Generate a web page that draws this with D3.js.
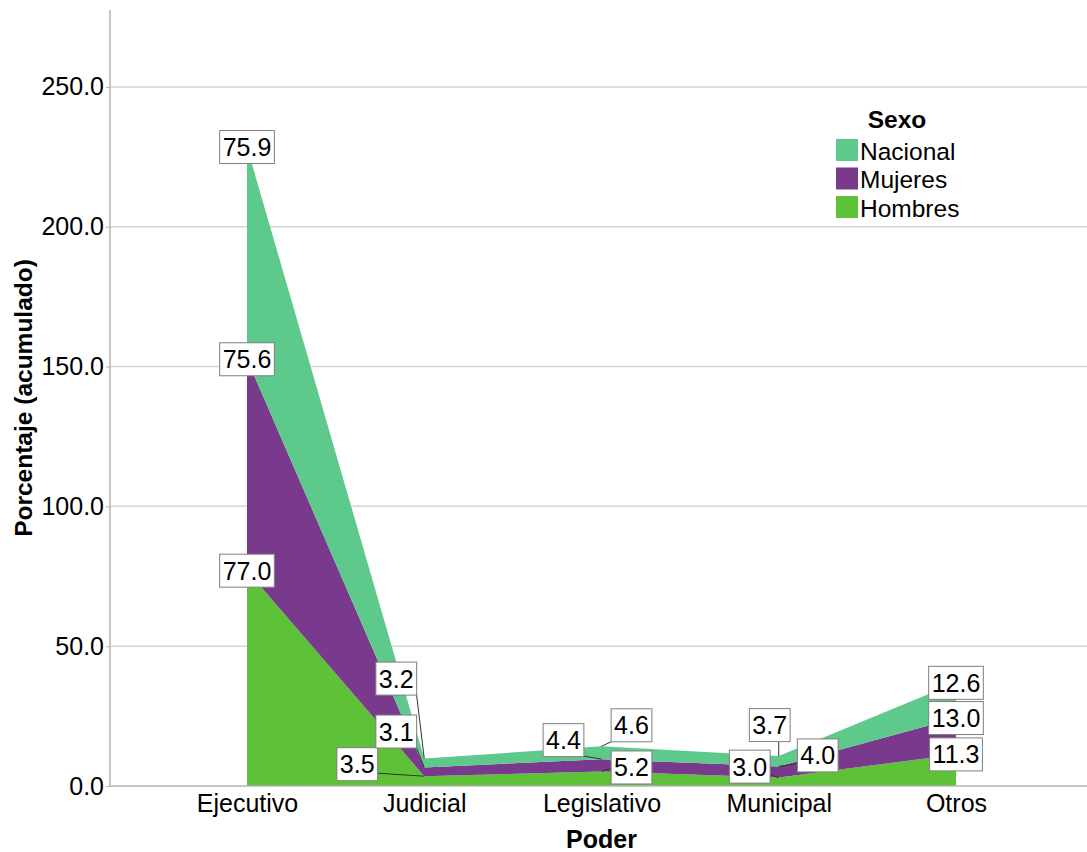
<!DOCTYPE html>
<html>
<head>
<meta charset="utf-8">
<script src="https://cdn.jsdelivr.net/npm/d3@7"></script>
<style>
	body { margin: 0; background: #fff; }
	svg { display: block; font-family: "Liberation Sans", Arial, sans-serif; }
</style>
</head>
<body>
<div id="chart"></div>
<script>
// Data
const categories = ["Ejecutivo", "Judicial", "Legislativo", "Municipal", "Otros"];
const hombres = [77.0, 3.5, 5.2, 3.0, 11.3];
const mujeres = [75.6, 3.1, 4.4, 4.0, 13.0];
const nacional = [75.9, 3.2, 4.6, 3.7, 12.6];
const seriesKeys = ["Hombres", "Mujeres", "Nacional"];
const yTicks = [0, 50, 100, 150, 200, 250];

const colors = { Hombres: "#5ec238", Mujeres: "#793a8d", Nacional: "#5dc98b" };

// label displacement (px) where SPSS pushed labels apart
const labelShift = {
	Hombres: [[0, 0], [-67, -12], [30, -4], [-29, -11], [0, 0]],
	Mujeres: [[0, 0], [-28, -36], [-38, -19], [39, -11], [0, 0]],
	Nacional: [[0, 0], [-28, -80], [30, -21], [-9, -31], [0, 0]]
};

const width = 1087, height = 852;
const margin = { top: 10, right: 0, bottom: 66, left: 110 };
const fontSize = 25;

const rows = categories.map((c, i) => ({
	cat: c, Hombres: hombres[i], Mujeres: mujeres[i], Nacional: nacional[i]
}));
const stacked = d3.stack().keys(seriesKeys)(rows);

const x = d3.scalePoint()
	.domain(categories)
	.range([margin.left, width + 6])
	.padding(0.773);

const y = d3.scaleLinear()
	.domain([0, 277.5])
	.range([height - margin.bottom, margin.top]);

const svg = d3.select("#chart").append("svg")
	.attr("width", width)
	.attr("height", height);

// Gridlines
svg.append("g")
	.selectAll("line")
	.data(yTicks.filter(d => d > 0))
	.join("line")
	.attr("x1", margin.left)
	.attr("x2", width)
	.attr("y1", d => y(d))
	.attr("y2", d => y(d))
	.attr("stroke", "#d6d6d6")
	.attr("stroke-width", 1.5);

// Areas
const area = d3.area()
	.x(d => x(d.data.cat))
	.y0(d => y(d[0]))
	.y1(d => y(d[1]));

svg.append("g")
	.selectAll("path")
	.data(stacked)
	.join("path")
	.attr("fill", d => colors[d.key])
	.attr("d", area);

// Axes
const yAxis = svg.append("g")
	.attr("transform", `translate(${margin.left},0)`)
	.call(d3.axisLeft(y).tickValues(yTicks).tickFormat(d3.format(".1f")).tickSize(4).tickPadding(2));
yAxis.select(".domain").attr("stroke", "#b4b4b4").attr("stroke-width", 1.5)
	.attr("d", `M0,${margin.top}V${y(0)}`);
yAxis.selectAll(".tick line").attr("stroke", "#b4b4b4");
yAxis.selectAll(".tick text")
	.attr("font-size", fontSize)
	.attr("font-family", "Liberation Sans, Arial, sans-serif")
	.attr("fill", "#000");

const xAxis = svg.append("g")
	.attr("transform", `translate(0,${y(0)})`)
	.call(d3.axisBottom(x).tickSize(0).tickPadding(8));
xAxis.select(".domain").attr("stroke", "#b4b4b4").attr("stroke-width", 1.5)
	.attr("d", `M${margin.left},0H${width}`);
xAxis.selectAll(".tick text")
	.attr("font-size", fontSize)
	.attr("font-family", "Liberation Sans, Arial, sans-serif")
	.attr("fill", "#000");

// Axis titles
svg.append("text")
	.attr("x", x("Legislativo"))
	.attr("y", 848)
	.attr("text-anchor", "middle")
	.attr("font-size", fontSize)
	.attr("font-weight", "bold")
	.text("Poder");

svg.append("text")
	.attr("transform", `translate(23,${(y(0) + margin.top) / 2}) rotate(-90)`)
	.attr("text-anchor", "middle")
	.attr("dominant-baseline", "central")
	.attr("font-size", 24.5)
	.attr("font-weight", "bold")
	.text("Porcentaje (acumulado)");

// Data labels
const labels = [];
stacked.forEach(s => {
	s.forEach((d, i) => {
		const ax = x(d.data.cat), ay = y(d[1]);
		const [dx, dy] = labelShift[s.key][i];
		labels.push({ ax, ay, cx: ax + dx, cy: ay + dy, text: d3.format(".1f")(d.data[s.key]) });
	});
});

const labelG = svg.append("g");
labels.forEach(l => {
	const t = labelG.append("text")
		.attr("x", l.cx)
		.attr("y", l.cy)
		.attr("text-anchor", "middle")
		.attr("dominant-baseline", "central")
		.attr("font-size", fontSize)
		.text(l.text);
	const w = t.node().getComputedTextLength() + 6;
	const h = 33;
	const bx = l.cx - w / 2, by = l.cy - h / 2;
	if (l.cx !== l.ax || l.cy !== l.ay) {
		// leader from the nearest box edge to the point
		const px = Math.max(bx, Math.min(bx + w, l.ax));
		const py = Math.max(by, Math.min(by + h, l.ay - 3));
		labelG.insert("line", "text")
			.attr("x1", px).attr("y1", py)
			.attr("x2", l.ax).attr("y2", l.ay)
			.attr("stroke", "#333")
			.attr("stroke-width", 1);
	}
	labelG.insert("rect", "text")
		.attr("x", bx).attr("y", by)
		.attr("width", w).attr("height", h)
		.attr("fill", "#fff")
		.attr("stroke", "#7f7f7f")
		.attr("stroke-width", 1);
	t.raise();
});

// Legend
const legend = svg.append("g").attr("transform", "translate(836,0)");
legend.append("text")
	.attr("x", 61)
	.attr("y", 119)
	.attr("text-anchor", "middle")
	.attr("dominant-baseline", "central")
	.attr("font-size", 24.5)
	.attr("font-weight", "bold")
	.text("Sexo");

const legendItems = seriesKeys.slice().reverse();
const row = legend.selectAll(".item")
	.data(legendItems)
	.join("g")
	.attr("class", "item")
	.attr("transform", (d, i) => `translate(0,${150 + i * 28.5})`);
row.append("rect")
	.attr("x", 0).attr("y", -11)
	.attr("width", 22).attr("height", 22)
	.attr("fill", d => colors[d]);
row.append("text")
	.attr("x", 24)
	.attr("y", 1)
	.attr("dominant-baseline", "central")
	.attr("font-size", 24.5)
	.text(d => d);
</script>
</body>
</html>
